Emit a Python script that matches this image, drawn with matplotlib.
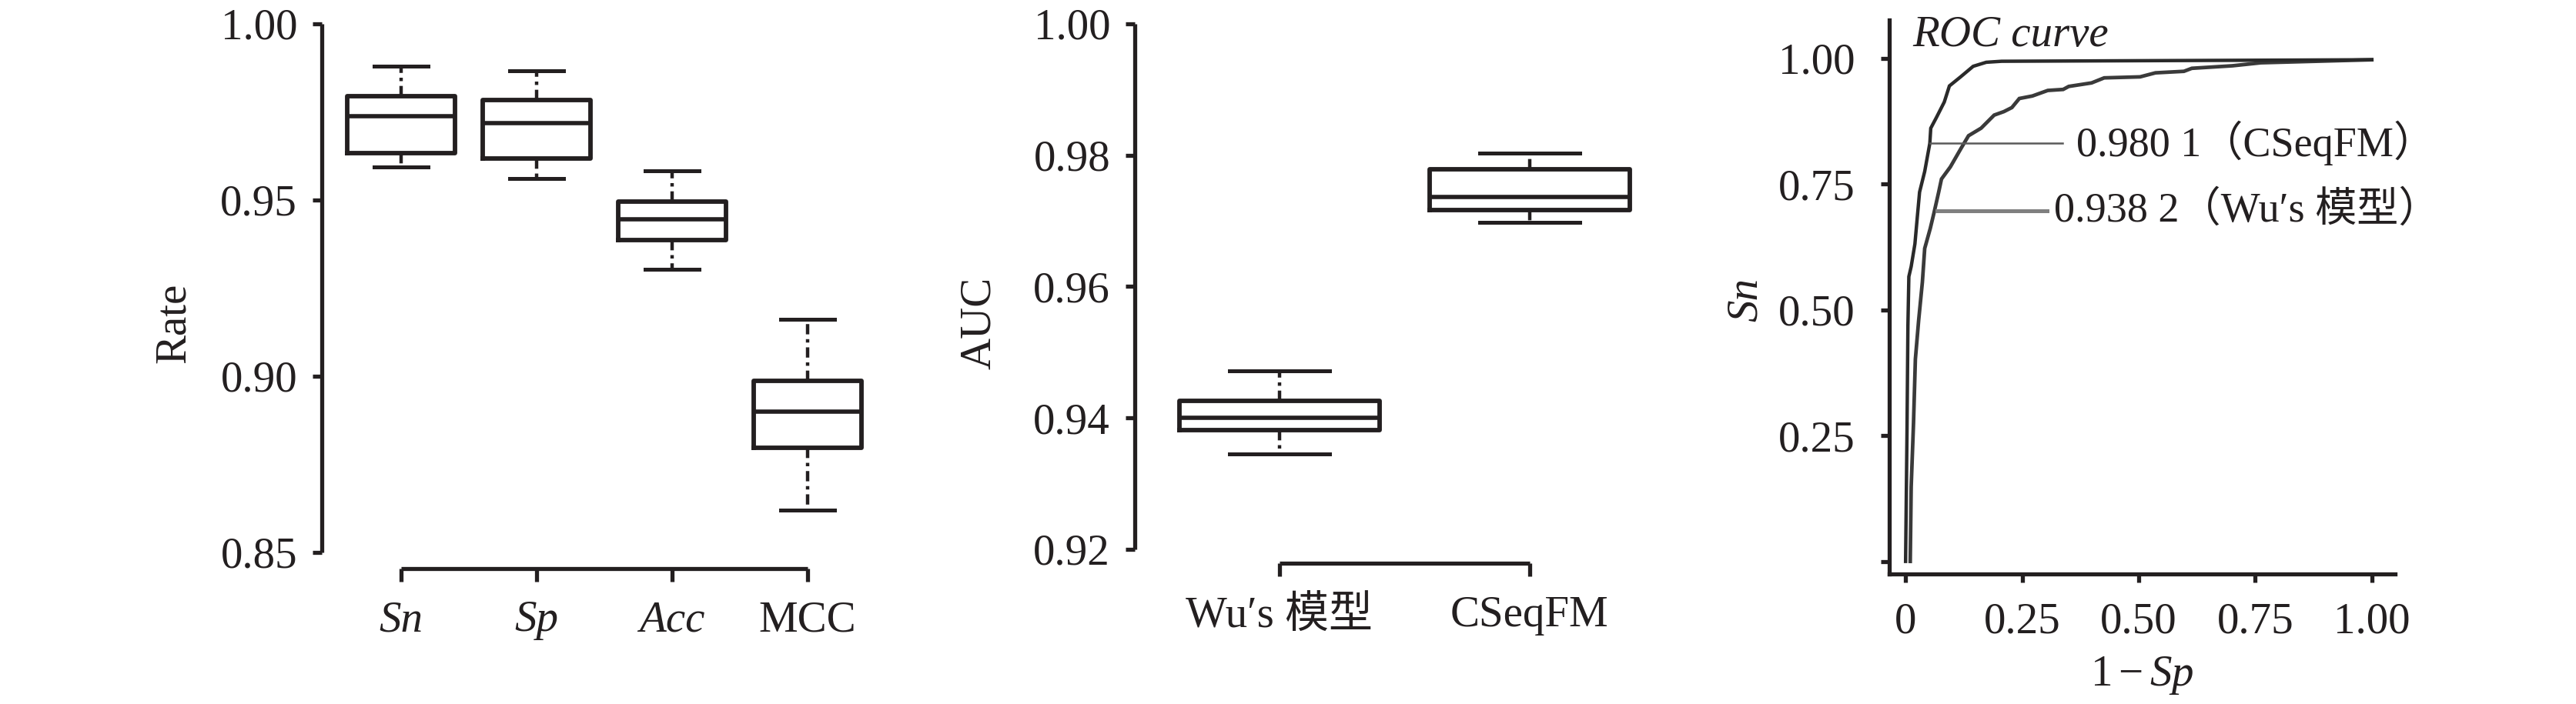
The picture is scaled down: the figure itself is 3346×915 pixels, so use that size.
import matplotlib
matplotlib.use("Agg")
import matplotlib.pyplot as plt

plt.rcParams['font.family'] = ['Liberation Serif', 'Noto Sans CJK SC', 'DejaVu Sans']
plt.rcParams['mathtext.fontset'] = 'custom'
plt.rcParams['mathtext.rm'] = 'Liberation Serif'
plt.rcParams['mathtext.it'] = 'Liberation Serif:italic'

INK = '#231f20'
FS = 41

# ---------------- data ----------------
metric_names = ['Sn', 'Sp', 'Acc', 'MCC']
metric_italic = [True, True, True, False]
metric_whislo = [0.9594, 0.9561, 0.9304, 0.8620]
metric_q1 = [0.9633, 0.9617, 0.9387, 0.8796]
metric_med = [0.9739, 0.9718, 0.9445, 0.8899]
metric_q3 = [0.9795, 0.9784, 0.9496, 0.8987]
metric_whishi = [0.9879, 0.9866, 0.9584, 0.9162]
rate_ticks = [0.85, 0.90, 0.95, 1.00]

model_names = ['Wu′s 模型', 'CSeqFM']
auc_whislo = [0.9345, 0.9698]
auc_q1 = [0.9381, 0.9717]
auc_med = [0.9400, 0.9736]
auc_q3 = [0.9426, 0.9779]
auc_whishi = [0.9472, 0.9803]
auc_ticks = [0.92, 0.94, 0.96, 0.98, 1.00]

cseq_fpr = [0.0, 0.003, 0.005, 0.007, 0.012, 0.020, 0.025, 0.030, 0.041, 0.052,
            0.054, 0.066, 0.083, 0.094, 0.118, 0.145, 0.173, 0.206, 1.0]
cseq_tpr = [0.0, 0.255, 0.469, 0.566, 0.586, 0.631, 0.683, 0.734, 0.775, 0.831,
            0.861, 0.882, 0.913, 0.945, 0.963, 0.984, 0.992, 0.994, 0.997]
wu_fpr = [0.010, 0.012, 0.017, 0.021, 0.028, 0.036, 0.041, 0.053, 0.061, 0.071,
          0.077, 0.096, 0.119, 0.135, 0.162, 0.190, 0.211, 0.228, 0.244, 0.272,
          0.305, 0.338, 0.350, 0.399, 0.426, 0.503, 0.536, 0.597, 0.614, 0.701,
          0.762, 1.0]
wu_tpr = [0.0, 0.148, 0.275, 0.402, 0.479, 0.555, 0.622, 0.662, 0.693, 0.734,
          0.760, 0.784, 0.821, 0.846, 0.861, 0.887, 0.894, 0.902, 0.920, 0.925,
          0.936, 0.938, 0.944, 0.951, 0.961, 0.963, 0.971, 0.974, 0.980, 0.985,
          0.991, 0.997]
roc_ticks = [0, 0.25, 0.50, 0.75, 1.00]
roc_xlabels = ['0', '0.25', '0.50', '0.75', '1.00']
roc_ylabels = ['', '0.25', '0.50', '0.75', '1.00']
cseq_label = '0.980 1（CSeqFM）'
wu_label = '0.938 2（Wu′s 模型）'
cseq_anno_y = 0.831
wu_anno_y = 0.697

W, H = 3346, 915
fig = plt.figure(figsize=(W / 100, H / 100), dpi=100)


def px_axes(left, right, top, bottom):
    return fig.add_axes([left / W, (H - bottom) / H, (right - left) / W, (bottom - top) / H])


def style_box_axes(ax, yticks, ylabels, xn, offset_pt):
    ax.spines['top'].set_visible(False)
    ax.spines['right'].set_visible(False)
    for s in ('left', 'bottom'):
        ax.spines[s].set_linewidth(3.8)
        ax.spines[s].set_color(INK)
        ax.spines[s].set_capstyle('butt')
    ax.spines['bottom'].set_position(('outward', offset_pt))
    ax.spines['bottom'].set_bounds(0, xn - 1)
    ax.spines['left'].set_bounds(yticks[0], yticks[-1])
    ax.set_yticks(yticks)
    ax.set_yticklabels(ylabels, fontsize=FS, color=INK)
    ax.tick_params(axis='y', length=9, width=3.8, pad=14, colors=INK)
    ax.tick_params(axis='x', length=12, width=3.8, pad=18, colors=INK)


def draw_boxes(ax, lo, q1, med, q3, hi):
    stats = []
    for i in range(len(lo)):
        stats.append(dict(whislo=lo[i], q1=q1[i], med=med[i], q3=q3[i], whishi=hi[i], fliers=[]))
    ax.bxp(stats, positions=list(range(len(lo))), widths=0.8, showfliers=False,
           boxprops=dict(color=INK, linewidth=4.2),
           medianprops=dict(color=INK, linewidth=4.0),
           whiskerprops=dict(color=INK, linewidth=3.2, linestyle=(0, (3, 1.4, 1, 1.4))),
           capprops=dict(color=INK, linewidth=3.6))


# ---------------- panel 1 ----------------
ax1 = px_axes(418, 1123, 31, 718)
draw_boxes(ax1, metric_whislo, metric_q1, metric_med, metric_q3, metric_whishi)
ax1.set_xlim(-0.585, 3.42)
ax1.set_ylim(0.85, 1.00)
style_box_axes(ax1, rate_ticks, ['%.2f' % v for v in rate_ticks], len(metric_names), 15)
ax1.set_xticks(range(len(metric_names)))
ax1.set_xticklabels(metric_names, fontsize=FS, color=INK)
for lab, it in zip(ax1.get_xticklabels(), metric_italic):
    if it:
        lab.set_fontstyle('italic')
fig.text(226 / W, 1 - 420 / H, 'Rate', rotation=90, fontsize=FS, color=INK,
         ha='center', va='center')

# ---------------- panel 2 ----------------
ax2 = px_axes(1474, 2123, 31, 714)
draw_boxes(ax2, auc_whislo, auc_q1, auc_med, auc_q3, auc_whishi)
ax2.set_xlim(-0.578, 1.42)
ax2.set_ylim(0.92, 1.00)
style_box_axes(ax2, auc_ticks, ['%.2f' % v for v in auc_ticks], len(model_names), 13)
ax2.set_xticks(range(len(model_names)))
ax2.set_xticklabels(model_names, fontsize=FS, color=INK)
fig.text(1272 / W, 1 - 420 / H, 'AUC', rotation=90, fontsize=FS, color=INK,
         ha='center', va='center')

# ---------------- panel 3 ----------------
ax3 = px_axes(2454, 3111, 26, 746)
ax3.plot(wu_fpr, wu_tpr, color='#3a3a3a', linewidth=3.4, solid_joinstyle='miter')
ax3.plot(cseq_fpr, cseq_tpr, color='#2a2a2a', linewidth=3.2, solid_joinstyle='miter')
ax3.set_xlim(-0.035, 1.05)
ax3.set_ylim(-0.025, 1.076)
for s in ('top', 'right'):
    ax3.spines[s].set_visible(False)
for s in ('left', 'bottom'):
    ax3.spines[s].set_linewidth(3.8)
    ax3.spines[s].set_color(INK)
ax3.set_xticks(roc_ticks)
ax3.set_xticklabels(roc_xlabels, fontsize=FS, color=INK)
ax3.set_yticks(roc_ticks)
ax3.set_yticklabels(roc_ylabels, fontsize=FS, color=INK)
ax3.tick_params(axis='both', length=8, width=3.8, colors=INK)
ax3.tick_params(axis='y', pad=24)
ax3.tick_params(axis='x', pad=18)
fig.text(2268 / W, 1 - 390 / H, 'Sn', rotation=90, fontsize=FS, color=INK,
         fontstyle='italic', ha='center', va='center')
ax3.set_xlabel(r'$\mathrm{1}-\mathit{Sp}$', fontsize=FS, color=INK, labelpad=12)
ax3.text(0.015, 1.045, 'ROC curve', fontsize=FS, fontstyle='italic', color=INK,
         ha='left', va='center')
ax3.plot([0.053, 0.337], [cseq_anno_y, cseq_anno_y], color='#5a5a5a', linewidth=1.8)
ax3.plot([0.068, 0.304], [wu_anno_y, wu_anno_y], color='#808080', linewidth=3.6)
ax3.text(0.366, cseq_anno_y, cseq_label, fontsize=FS - 2, color=INK, ha='left', va='center')
ax3.text(0.318, wu_anno_y, wu_label, fontsize=FS - 2, color=INK, ha='left', va='center')

fig.savefig('out.png', dpi=100, facecolor='white')
